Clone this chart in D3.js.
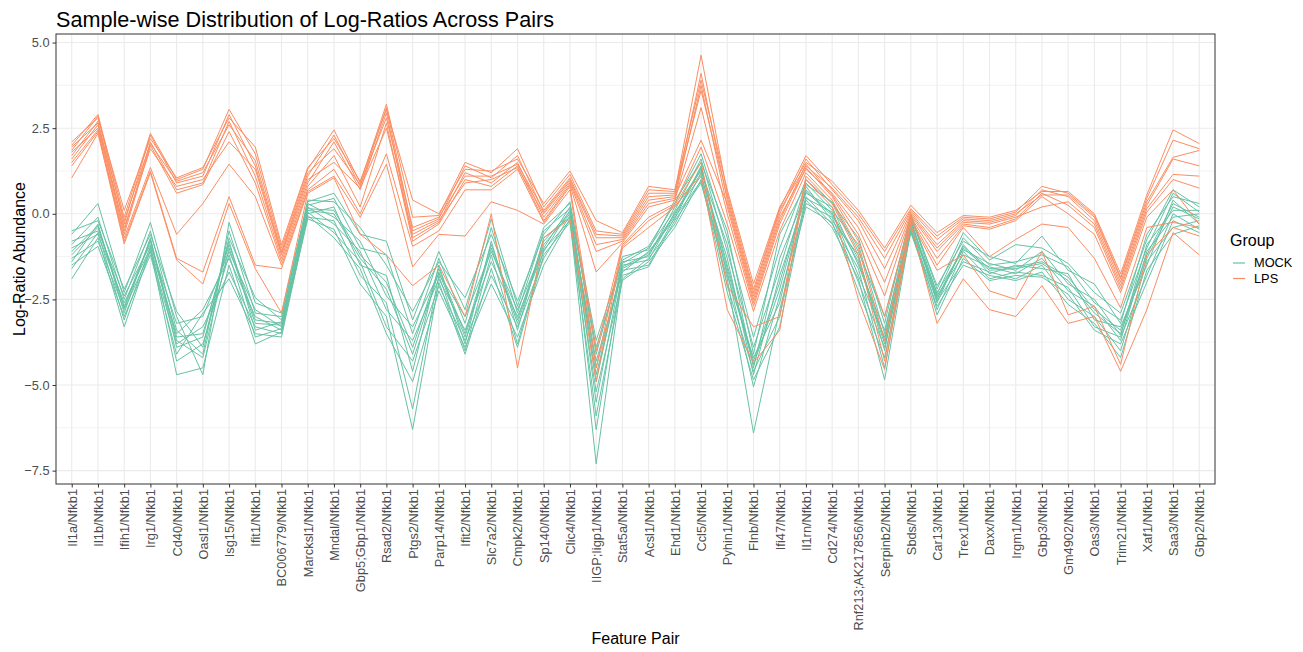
<!DOCTYPE html>
<html>
<head>
<meta charset="utf-8">
<script src="https://cdn.jsdelivr.net/npm/d3@7"></script>
<style>
  body { margin: 0; background: #fff; }
  text { font-family: "Liberation Sans", Arial, sans-serif; }
</style>
</head>
<body>
<svg id="chart" width="1303" height="652"></svg>
<script>
var pairs = ["Il1a/Nfkb1","Il1b/Nfkb1","Ifih1/Nfkb1","Irg1/Nfkb1","Cd40/Nfkb1","Oasl1/Nfkb1","Isg15/Nfkb1","Ifit1/Nfkb1",
  "BC006779/Nfkb1","Marcksl1/Nfkb1","Mndal/Nfkb1","Gbp5;Gbp1/Nfkb1","Rsad2/Nfkb1","Ptgs2/Nfkb1","Parp14/Nfkb1","Ifit2/Nfkb1",
  "Slc7a2/Nfkb1","Cmpk2/Nfkb1","Sp140/Nfkb1","Clic4/Nfkb1","IIGP;Iigp1/Nfkb1","Stat5a/Nfkb1","Acsl1/Nfkb1","Ehd1/Nfkb1",
  "Ccl5/Nfkb1","Pyhin1/Nfkb1","Flnb/Nfkb1","Ifi47/Nfkb1","Il1rn/Nfkb1","Cd274/Nfkb1","Rnf213;AK217856/Nfkb1","Serpinb2/Nfkb1",
  "Sbds/Nfkb1","Car13/Nfkb1","Trex1/Nfkb1","Daxx/Nfkb1","Irgm1/Nfkb1","Gbp3/Nfkb1","Gm4902/Nfkb1","Oas3/Nfkb1",
  "Trim21/Nfkb1","Xaf1/Nfkb1","Saa3/Nfkb1","Gbp2/Nfkb1"];

var groups = ["MOCK", "LPS"];
var yTicks = [5.0, 2.5, 0.0, -2.5, -5.0, -7.5];

// one row per feature pair, one value per MOCK sample (12)
var mockValues = [
  [-0.5,-0.6,-0.8,-0.9,-1.0,-1.1,-1.2,-1.3,-1.4,-1.5,-1.6,-1.9],
  [-0.2,0.3,-0.5,-0.1,-0.6,-0.35,-0.4,-0.8,-0.3,-0.95,-0.55,-0.7],
  [-2.2,-2.3,-2.4,-2.5,-2.6,-2.7,-2.75,-2.8,-2.9,-3.0,-3.1,-3.3],
  [-0.6,-0.25,-0.9,-0.5,-1.0,-0.75,-0.8,-1.1,-0.7,-1.2,-0.95,-1.05],
  [-2.85,-3.0,-3.2,-3.4,-3.5,-3.6,-3.7,-3.8,-3.9,-4.1,-4.3,-4.7],
  [-3.9,-4.7,-3.0,-4.1,-2.8,-3.5,-4.2,-3.3,-3.6,-2.9,-3.8,-4.5],
  [-0.7,-0.25,-1.1,-0.5,-1.3,-0.9,-1.0,-1.7,-0.8,-1.9,-1.2,-1.5],
  [-2.45,-2.6,-2.8,-2.9,-3.0,-3.1,-3.2,-3.3,-3.4,-3.5,-3.6,-3.8],
  [-3.1,-2.9,-3.3,-3.0,-3.4,-3.2,-3.25,-3.5,-3.15,-3.6,-3.35,-3.45],
  [0.4,0.35,0.3,0.25,0.2,0.15,0.1,0.05,0.0,-0.05,-0.1,-0.15],
  [0.35,0.6,-0.1,0.45,-0.3,0.1,0.0,-0.55,0.2,-0.7,-0.2,-0.45],
  [-0.4,-0.6,-0.8,-1.0,-1.1,-1.2,-1.3,-1.4,-1.5,-1.6,-1.8,-2.05],
  [-1.5,-0.8,-2.4,-1.2,-2.8,-2.0,-2.2,-3.3,-1.8,-3.5,-2.6,-3.0],
  [-2.85,-3.1,-3.3,-3.5,-3.7,-3.9,-4.1,-4.3,-4.6,-4.9,-5.7,-6.3],
  [-1.4,-1.1,-1.75,-1.3,-1.9,-1.6,-1.7,-2.1,-1.5,-2.25,-1.8,-2.0],
  [-2.45,-2.8,-3.0,-3.2,-3.4,-3.5,-3.6,-3.7,-3.8,-3.9,-4.0,-4.1],
  [-0.6,-0.15,-1.1,-0.4,-1.4,-0.9,-1.0,-1.8,-0.8,-2.05,-1.2,-1.6],
  [-2.55,-2.7,-2.8,-2.9,-3.0,-3.1,-3.2,-3.3,-3.4,-3.6,-3.8,-3.9],
  [-0.6,-0.4,-1.0,-0.5,-1.1,-0.8,-0.9,-1.3,-0.7,-1.5,-1.05,-1.2],
  [0.35,0.3,0.2,0.15,0.1,0.05,0.0,-0.05,-0.1,-0.15,-0.2,-0.25],
  [-4.1,-3.7,-4.9,-3.9,-5.5,-4.5,-4.7,-6.3,-4.3,-7.3,-5.2,-5.9],
  [-1.25,-1.35,-1.4,-1.45,-1.5,-1.55,-1.6,-1.65,-1.7,-1.8,-1.9,-1.95],
  [-1.05,-0.95,-1.25,-1.0,-1.35,-1.15,-1.2,-1.5,-1.1,-1.55,-1.3,-1.4],
  [0.4,0.3,0.2,0.1,0.05,0.0,-0.05,-0.1,-0.15,-0.2,-0.3,-0.4],
  [1.5,1.75,1.25,1.6,1.1,1.35,1.3,0.95,1.4,0.9,1.2,1.0],
  [-0.5,-0.7,-0.9,-1.1,-1.3,-1.5,-1.6,-1.7,-1.8,-1.9,-2.1,-2.3],
  [-4.1,-3.6,-4.5,-3.9,-4.7,-4.3,-4.4,-5.05,-4.2,-6.4,-4.6,-4.85],
  [-0.6,-1.0,-1.3,-1.6,-1.8,-2.0,-2.2,-2.4,-2.6,-2.8,-3.0,-3.3],
  [0.85,1.0,0.6,0.9,0.45,0.7,0.65,0.3,0.8,0.2,0.5,0.4],
  [0.35,0.3,0.2,0.1,0.05,0.0,-0.05,-0.1,-0.2,-0.25,-0.3,-0.4],
  [-1.1,-0.7,-1.5,-0.9,-1.8,-1.3,-1.4,-2.0,-1.2,-2.25,-1.6,-1.9],
  [-3.0,-3.2,-3.4,-3.5,-3.6,-3.7,-3.8,-3.9,-4.0,-4.2,-4.5,-4.85],
  [-0.1,0.0,-0.3,-0.05,-0.4,-0.2,-0.25,-0.5,-0.15,-0.55,-0.35,-0.45],
  [-2.1,-2.2,-2.3,-2.35,-2.4,-2.45,-2.5,-2.55,-2.6,-2.7,-2.8,-2.95],
  [-0.8,-0.55,-1.05,-0.7,-1.2,-0.95,-1.0,-1.4,-0.9,-1.5,-1.1,-1.3],
  [-1.25,-1.35,-1.45,-1.5,-1.55,-1.6,-1.65,-1.7,-1.75,-1.8,-1.9,-1.95],
  [-1.45,-0.9,-1.65,-1.4,-1.75,-1.55,-1.6,-1.9,-1.5,-1.95,-1.7,-1.8],
  [-0.65,-1.0,-1.1,-1.2,-1.3,-1.4,-1.45,-1.5,-1.6,-1.7,-1.8,-1.85],
  [-1.65,-1.45,-2.05,-1.55,-2.25,-1.85,-1.95,-2.5,-1.75,-2.65,-2.15,-2.35],
  [-2.05,-2.3,-2.5,-2.6,-2.7,-2.8,-2.9,-3.0,-3.1,-3.2,-3.3,-3.4],
  [-3.2,-2.9,-3.55,-3.1,-3.7,-3.4,-3.5,-4.0,-3.3,-4.2,-3.6,-3.8],
  [-0.6,-0.75,-0.9,-1.0,-1.1,-1.2,-1.3,-1.4,-1.5,-1.65,-1.8,-2.0],
  [0.5,0.7,0.1,0.6,-0.1,0.3,0.2,-0.4,0.4,-0.6,0.0,-0.2],
  [0.3,0.2,0.1,0.05,0.0,-0.1,-0.15,-0.2,-0.3,-0.35,-0.45,-0.55]
];

// one row per feature pair, one value per LPS sample (10)
var lpsValues = [
  [2.1,2.0,1.95,1.85,1.8,1.7,1.6,1.5,1.4,1.05],
  [2.8,2.9,2.65,2.85,2.5,2.7,2.6,2.45,2.4,2.35],
  [0.1,-0.1,-0.2,-0.3,-0.4,-0.5,-0.6,-0.7,-0.8,-0.88],
  [2.2,2.35,2.05,2.3,1.9,2.1,2.0,1.35,1.25,1.2],
  [1.05,1.0,0.95,0.9,0.8,0.7,0.6,-0.6,-1.3,-1.35],
  [1.35,1.3,1.2,1.1,1.0,0.9,0.85,0.3,-1.7,-2.05],
  [2.8,3.05,2.6,2.9,2.1,2.7,2.4,1.45,0.5,0.3],
  [1.95,1.75,1.55,1.4,1.3,1.1,0.9,0.5,-1.5,-1.6],
  [-0.9,-1.0,-1.1,-1.15,-1.2,-1.3,-1.4,-1.5,-1.6,-2.9],
  [1.35,1.3,1.2,1.1,1.0,0.9,0.8,0.7,0.65,0.6],
  [2.2,2.45,1.9,2.3,1.5,2.1,1.7,1.3,1.1,1.05],
  [0.95,0.9,0.85,0.8,0.75,0.7,0.2,0.0,-0.1,-0.6],
  [3.05,3.2,2.8,3.1,2.5,2.95,2.65,1.75,1.45,-1.2],
  [0.4,-0.1,-0.4,-0.5,-0.6,-0.7,-0.8,-0.95,-1.55,-2.1],
  [0.0,-0.05,-0.1,-0.15,-0.2,-0.25,-0.3,-0.5,-0.6,-1.5],
  [1.3,1.5,1.1,1.4,0.9,1.2,1.0,0.7,-0.65,-3.0],
  [1.25,1.2,1.1,1.05,1.0,0.9,0.8,0.7,0.35,0.0],
  [1.6,1.9,1.45,1.7,1.35,1.5,1.4,1.3,0.1,-4.5],
  [0.3,0.2,0.1,0.05,0.0,-0.1,-0.2,-0.25,-0.3,-0.7],
  [1.25,1.15,1.05,1.0,0.95,0.9,0.85,0.8,0.7,-0.15],
  [-0.2,-0.5,-0.6,-0.7,-0.9,-1.1,-1.7,-4.0,-4.5,-4.9],
  [-0.55,-0.6,-0.65,-0.7,-0.75,-0.8,-0.85,-0.9,-0.95,-1.0],
  [0.8,0.7,0.6,0.5,0.4,0.3,0.2,-0.1,-0.2,-0.4],
  [0.7,0.65,0.6,0.55,0.5,0.45,0.4,0.3,0.25,0.2],
  [3.9,4.63,3.6,4.1,2.15,3.75,3.1,1.95,1.5,1.15],
  [0.7,0.6,0.5,0.4,0.3,0.2,0.0,-0.3,-2.1,-2.8],
  [-2.05,-2.2,-2.3,-2.4,-2.5,-2.6,-2.7,-2.85,-3.3,-4.35],
  [0.2,0.15,0.1,0.0,-0.1,-0.2,-0.3,-0.5,-3.0,-3.4],
  [1.5,1.7,1.4,1.6,1.3,1.45,1.35,1.2,1.1,1.0],
  [0.95,0.85,0.75,0.7,0.6,0.55,0.5,0.4,0.3,0.2],
  [0.1,0.0,-0.1,-0.2,-0.4,-0.6,-0.8,-1.0,-1.2,-2.5],
  [-1.0,-1.1,-1.3,-1.6,-2.0,-2.4,-3.0,-3.7,-4.3,-4.55],
  [0.25,0.15,0.1,0.05,0.0,-0.05,-0.1,-0.15,-0.2,-0.3],
  [-0.55,-0.65,-0.75,-0.9,-1.0,-1.1,-1.3,-1.5,-1.65,-3.2],
  [-0.05,-0.1,-0.15,-0.2,-0.25,-0.3,-0.35,-0.4,-1.2,-1.9],
  [-0.1,-0.15,-0.2,-0.25,-0.3,-0.4,-0.45,-1.25,-2.25,-2.8],
  [0.1,0.05,0.0,-0.05,-0.1,-0.15,-0.2,-0.75,-2.5,-3.0],
  [0.65,0.8,0.55,0.7,0.2,0.6,0.5,-0.3,-1.1,-2.1],
  [0.65,0.6,0.55,0.5,0.35,0.25,0.0,-0.4,-2.95,-3.2],
  [0.0,-0.05,-0.1,-0.2,-0.3,-0.4,-0.6,-1.3,-2.7,-3.0],
  [-1.75,-1.85,-1.9,-2.0,-2.1,-2.2,-2.3,-2.75,-4.4,-4.6],
  [0.55,0.45,0.35,0.25,0.15,0.05,-0.1,-0.4,-1.2,-2.8],
  [2.45,2.15,1.65,1.6,1.15,1.0,0.7,-0.25,-0.4,-0.55],
  [2.05,1.9,1.85,1.4,1.1,0.75,-0.3,-0.4,-0.65,-1.2]
];

var svg = d3.select("#chart"),
    margin = {top: 34, right: 88, bottom: 168, left: 56},
    width = +svg.attr("width") - margin.left - margin.right,
    height = +svg.attr("height") - margin.top - margin.bottom;

var colors = d3.scaleOrdinal().domain(groups).range(["#66C2A5", "#FC8D62"]);

var x = d3.scalePoint().domain(pairs).range([0, width]).padding(0.6);
var y = d3.scaleLinear().domain([-7.89, 5.25]).range([height, 0]);

var g = svg.append("g").attr("transform", "translate(" + margin.left + "," + margin.top + ")");

// grid lines (theme_bw look)
var minor = yTicks.slice(1).map(function(t) { return t + 1.25; });
g.selectAll(".minor").data(minor).enter().append("line")
    .attr("x1", 0).attr("x2", width)
    .attr("y1", function(d) { return y(d); }).attr("y2", function(d) { return y(d); })
    .attr("stroke", "#EBEBEB").attr("stroke-width", 0.6);
g.selectAll(".hmajor").data(yTicks).enter().append("line")
    .attr("x1", 0).attr("x2", width)
    .attr("y1", function(d) { return y(d); }).attr("y2", function(d) { return y(d); })
    .attr("stroke", "#EBEBEB").attr("stroke-width", 1.1);
g.selectAll(".vmajor").data(pairs).enter().append("line")
    .attr("y1", 0).attr("y2", height)
    .attr("x1", function(d) { return x(d); }).attr("x2", function(d) { return x(d); })
    .attr("stroke", "#EBEBEB").attr("stroke-width", 1.1);

// turn the per-pair rows into one series per sample
function samples(rows, group) {
  var n = rows[0].length, out = [];
  for (var s = 0; s < n; s++) {
    out.push({group: group, values: rows.map(function(r, i) { return {pair: pairs[i], v: r[s]}; })});
  }
  return out;
}
var series = samples(mockValues, "MOCK").concat(samples(lpsValues, "LPS"));

var line = d3.line()
    .x(function(d) { return x(d.pair); })
    .y(function(d) { return y(d.v); });

g.selectAll(".sample").data(series).enter().append("path")
    .attr("fill", "none")
    .attr("stroke", function(d) { return colors(d.group); })
    .attr("stroke-width", 1)
    .attr("d", function(d) { return line(d.values); });

g.append("rect").attr("width", width).attr("height", height)
    .attr("fill", "none").attr("stroke", "#333333").attr("stroke-width", 1);

// axes
var xAxis = g.append("g").attr("transform", "translate(0," + height + ")")
    .call(d3.axisBottom(x).tickSize(3.5).tickPadding(2));
xAxis.select(".domain").remove();
xAxis.selectAll("line").attr("stroke", "#333333");
xAxis.selectAll("text")
    .attr("transform", "rotate(-90)")
    .attr("x", -5).attr("y", 0).attr("dy", "0.35em")
    .style("text-anchor", "end")
    .attr("fill", "#4D4D4D").style("font-size", "12.8px");

var yAxis = g.append("g")
    .call(d3.axisLeft(y).tickValues(yTicks).tickFormat(d3.format(".1f")).tickSize(3.5).tickPadding(3));
yAxis.select(".domain").remove();
yAxis.selectAll("line").attr("stroke", "#333333");
yAxis.selectAll("text").attr("fill", "#4D4D4D").style("font-size", "12.8px");

// titles
svg.append("text").attr("x", 56).attr("y", 27)
    .style("font-size", "21.6px").attr("fill", "#000").text("Sample-wise Distribution of Log-Ratios Across Pairs");
svg.append("text").attr("x", margin.left + width / 2).attr("y", 644)
    .attr("text-anchor", "middle").style("font-size", "16px").text("Feature Pair");
svg.append("text").attr("transform", "translate(25," + (margin.top + height / 2) + ") rotate(-90)")
    .attr("text-anchor", "middle").style("font-size", "16px").text("Log-Ratio Abundance");

// legend
var legend = svg.append("g").attr("transform", "translate(1230,0)");
legend.append("text").attr("x", 0).attr("y", 246).style("font-size", "16px").text("Group");
groups.forEach(function(gr, i) {
  var yy = 263 + i * 15.5;
  legend.append("line").attr("x1", 3).attr("x2", 15).attr("y1", yy).attr("y2", yy)
      .attr("stroke", colors(gr)).attr("stroke-width", 1.2);
  legend.append("text").attr("x", 24).attr("y", yy).attr("dy", "0.35em")
      .style("font-size", "12.8px").text(gr);
});
</script>
</body>
</html>
